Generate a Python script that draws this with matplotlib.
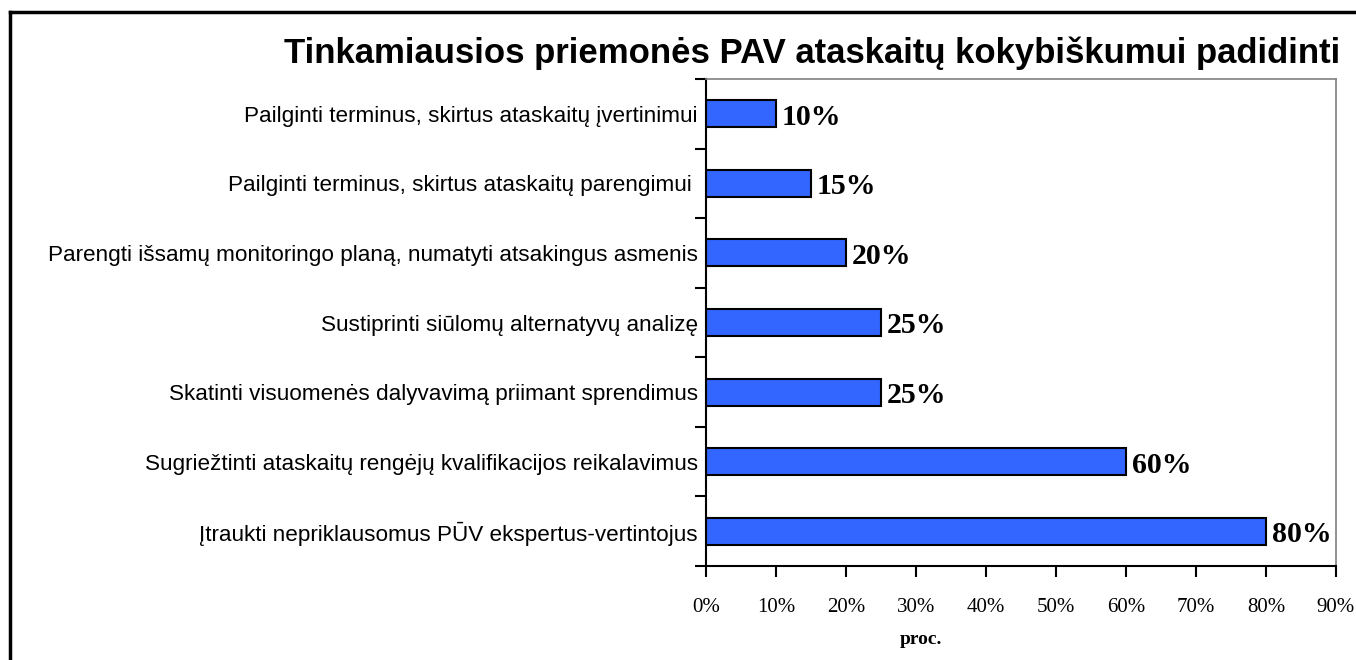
import matplotlib
matplotlib.use("Agg")
import matplotlib.pyplot as plt
from matplotlib.lines import Line2D
import numpy as np

categories = [
    "Pailginti terminus, skirtus ataskaitų įvertinimui",
    "Pailginti terminus, skirtus ataskaitų parengimui ",
    "Parengti išsamų monitoringo planą, numatyti atsakingus asmenis",
    "Sustiprinti siūlomų alternatyvų analizę",
    "Skatinti visuomenės dalyvavimą priimant sprendimus",
    "Sugriežtinti ataskaitų rengėjų kvalifikacijos reikalavimus",
    "Įtraukti nepriklausomus PŪV ekspertus-vertintojus",
]
values = [10, 15, 20, 25, 25, 60, 80]
xticks = [0, 10, 20, 30, 40, 50, 60, 70, 80, 90]

W, H = 1356, 660
fig = plt.figure(figsize=(W / 100, H / 100), dpi=100)
ax = fig.add_axes([706 / W, 1 - 566 / H, 630 / W, 487 / H])

y = np.arange(len(categories))
ax.barh(y, values, height=0.39, color="#3366FF", edgecolor="black", linewidth=1.5)
ax.set_xlim(0, 90)
ax.set_ylim(len(categories) - 0.5, -0.5)

for yi, v in zip(y, values):
    ax.text(v + 0.8, yi + 0.05, f"{v}%", va="center", ha="left",
            fontsize=21.5, fontweight="bold", family="Liberation Serif")

ax.set_yticks(y)
ax.set_yticklabels(categories, fontsize=16.2, family="Liberation Sans")
ax.set_yticks(np.arange(-0.5, len(categories)), minor=True)
ax.tick_params(axis="y", which="major", length=0, pad=6)
ax.tick_params(axis="y", which="minor", length=8, width=1.5, direction="out")

ax.set_xticks(xticks)
ax.set_xticklabels([f"{t}%" for t in xticks], fontsize=15, family="Liberation Serif")
ax.tick_params(axis="x", length=8, width=1.5, direction="out", pad=15)

for s in ["top", "right"]:
    ax.spines[s].set_color("#808080")
    ax.spines[s].set_linewidth(1.2)
for s in ["left", "bottom"]:
    ax.spines[s].set_color("black")
    ax.spines[s].set_linewidth(1.5)

fig.text(1340 / W, 1 - 53 / H, "Tinkamiausios priemonės PAV ataskaitų kokybiškumui padidinti",
         ha="right", va="center", fontsize=25, fontweight="bold", family="Liberation Sans")
fig.text(921 / W, 1 - 640 / H, "proc.", ha="center", va="center",
         fontsize=14, fontweight="bold", family="Liberation Serif")

# outer frame, cut off at right and bottom
fig.add_artist(Line2D([10 / W, 10 / W], [0, 1 - 12 / H], color="black", lw=2.5))
fig.add_artist(Line2D([10 / W, 1], [1 - 12 / H, 1 - 12 / H], color="black", lw=2.5))

fig.savefig("out.png", dpi=100)
